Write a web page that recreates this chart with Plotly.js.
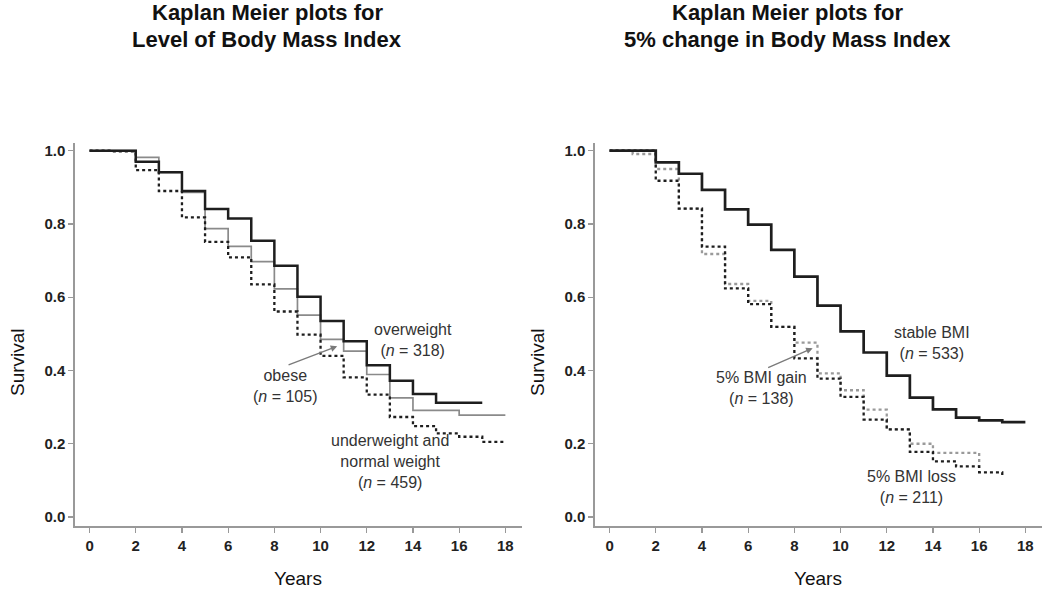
<!DOCTYPE html>
<html>
<head>
<meta charset="utf-8">
<script src="https://cdn.plot.ly/plotly-3.0.1.min.js"></script>
<style>html,body{margin:0;padding:0;background:#fff;}#chart{width:1050px;height:592px;}</style>
</head>
<body>
<div id="chart"></div>
<script>
// ---- Left panel: Level of Body Mass Index ----
const overweightYears = [0, 2, 3, 4, 5, 6, 7, 8, 9, 10, 11, 12, 13, 14, 15, 17];
const overweightSurv  = [1.0, 0.970, 0.941, 0.890, 0.841, 0.815, 0.754, 0.686, 0.601, 0.535, 0.480, 0.414, 0.372, 0.336, 0.312, 0.312];
const obeseYears = [0, 2, 3, 4, 5, 6, 7, 8, 9, 10, 11, 12, 13, 14, 16, 18];
const obeseSurv  = [1.0, 0.982, 0.941, 0.886, 0.787, 0.739, 0.697, 0.623, 0.551, 0.485, 0.453, 0.389, 0.325, 0.291, 0.278, 0.278];
const underYears = [0, 1, 2, 3, 4, 5, 6, 7, 8, 9, 10, 11, 12, 13, 14, 15, 16, 17, 18];
const underSurv  = [1.0, 0.998, 0.947, 0.890, 0.818, 0.751, 0.709, 0.635, 0.561, 0.498, 0.440, 0.381, 0.334, 0.273, 0.248, 0.228, 0.219, 0.205, 0.205];

// ---- Right panel: 5% change in Body Mass Index ----
const stableYears = [0, 2, 3, 4, 5, 6, 7, 8, 9, 10, 11, 12, 13, 14, 15, 16, 17, 18];
const stableSurv  = [1.0, 0.968, 0.937, 0.893, 0.840, 0.798, 0.729, 0.656, 0.577, 0.507, 0.449, 0.386, 0.326, 0.294, 0.271, 0.264, 0.259, 0.259];
const gainYears = [0, 1, 2, 3, 4, 5, 6, 7, 8, 9, 10, 11, 12, 13, 14, 16];
const gainSurv  = [1.0, 0.991, 0.950, 0.842, 0.718, 0.636, 0.590, 0.519, 0.476, 0.392, 0.346, 0.293, 0.239, 0.200, 0.175, 0.125];
const lossYears = [0, 2, 3, 4, 5, 6, 7, 8, 9, 10, 11, 12, 13, 14, 15, 16, 17];
const lossSurv  = [1.0, 0.918, 0.842, 0.738, 0.624, 0.581, 0.519, 0.433, 0.378, 0.328, 0.266, 0.239, 0.178, 0.152, 0.138, 0.122, 0.110];

const xTicks = [0, 2, 4, 6, 8, 10, 12, 14, 16, 18];
const yTicks = [0.0, 0.2, 0.4, 0.6, 0.8, 1.0];
const panelTitles = [
  ["Kaplan Meier plots for", "Level of Body Mass Index"],
  ["Kaplan Meier plots for", "5% change in Body Mass Index"]
];
const xTitle = "Years";
const yTitle = "Survival";

const FONT = "Liberation Sans, Arial, sans-serif";
const DOT = "3px,3px";

function step(x, y, xa, ya, color, width, dash) {
  return {x: x, y: y, xaxis: xa, yaxis: ya, type: "scatter", mode: "lines",
          line: {shape: "hv", color: color, width: width, dash: dash || "solid"},
          hoverinfo: "skip", showlegend: false};
}

const traces = [
  step(obeseYears, obeseSurv, "x", "y", "#8a8a8a", 1.7),
  step(underYears, underSurv, "x", "y", "#1e1e1e", 2.3, DOT),
  step(overweightYears, overweightSurv, "x", "y", "#1e1e1e", 2.5),
  step(gainYears, gainSurv, "x2", "y2", "#9a9a9a", 2.3, DOT),
  step(lossYears, lossSurv, "x2", "y2", "#1e1e1e", 2.3, DOT),
  step(stableYears, stableSurv, "x2", "y2", "#1e1e1e", 2.7)
];

function xAxis(domain, anchor) {
  return {domain: domain, anchor: anchor, range: [-0.63, 18.72],
          tickmode: "array", tickvals: xTicks, ticktext: xTicks.map(String),
          ticks: "outside", ticklen: 5, tickcolor: "#999", tickwidth: 1.2,
          showline: true, linecolor: "#999", linewidth: 1.6,
          showgrid: false, zeroline: false,
          tickfont: {family: FONT, size: 15, color: "#222", weight: "bold"}};
}
function yAxis(anchor) {
  return {domain: [0.11149, 0.75845], anchor: anchor, range: [-0.0246, 1.021],
          tickmode: "array", tickvals: yTicks, ticktext: yTicks.map(v => v.toFixed(1)),
          ticks: "outside", ticklen: 5, tickcolor: "#999", tickwidth: 1.2,
          showline: true, linecolor: "#999", linewidth: 1.6,
          showgrid: false, zeroline: false,
          tickfont: {family: FONT, size: 15, color: "#222", weight: "bold"}};
}

const txt = {family: FONT, size: 16, color: "#333"};
function lab(text, xref, yref, x, y) {
  return {text: text, xref: xref, yref: yref, x: x, y: y, showarrow: false,
          font: txt, align: "center", xanchor: "center", yanchor: "middle"};
}
function arrow(xref, yref, x, y, ax, ay) {
  return {text: "", xref: xref, yref: yref, x: x, y: y, axref: xref, ayref: yref,
          ax: ax, ay: ay, showarrow: true, arrowhead: 2, arrowsize: 1,
          arrowwidth: 1.3, arrowcolor: "#7a7a7a"};
}
function paperText(text, x, y, size, bold, angle) {
  return {text: text, xref: "paper", yref: "paper", x: x, y: y, showarrow: false,
          xanchor: "center", yanchor: "middle", textangle: angle || 0,
          font: {family: FONT, size: size, color: "#111", weight: bold ? "bold" : "normal"}};
}

const annotations = [
  // panel titles
  paperText(panelTitles[0][0], 267/1050, 1 - 13/592, 22, true),
  paperText(panelTitles[0][1], 267/1050, 1 - 40/592, 22, true),
  paperText(panelTitles[1][0], 787/1050, 1 - 13/592, 22, true),
  paperText(panelTitles[1][1], 787/1050, 1 - 40/592, 22, true),
  // axis titles
  paperText(xTitle, 298/1050, 1 - 578/592, 19, false),
  paperText(xTitle, 818/1050, 1 - 578/592, 19, false),
  paperText(yTitle, 17/1050, 1 - 362/592, 19, false, -90),
  paperText(yTitle, 537/1050, 1 - 362/592, 19, false, -90),
  // left labels
  lab("overweight<br>(<i>n</i> = 318)", "x", "y", 14.0, 0.483),
  lab("obese<br>(<i>n</i> = 105)", "x", "y", 8.47, 0.358),
  arrow("x", "y", 10.72, 0.466, 8.55, 0.414),
  lab("underweight and<br>normal weight<br>(<i>n</i> = 459)", "x", "y", 13.02, 0.152),
  // right labels
  lab("stable BMI<br>(<i>n</i> = 533)", "x2", "y2", 13.94, 0.475),
  lab("5% BMI gain<br>(<i>n</i> = 138)", "x2", "y2", 6.58, 0.353),
  arrow("x2", "y2", 8.79, 0.461, 6.80, 0.406),
  lab("5% BMI loss<br>(<i>n</i> = 211)", "x2", "y2", 13.07, 0.081)
];

const layout = {
  width: 1050, height: 592,
  margin: {l: 0, r: 0, t: 0, b: 0},
  paper_bgcolor: "#fff", plot_bgcolor: "#fff",
  showlegend: false,
  xaxis: xAxis([75/1050, 522/1050], "y"),
  yaxis: yAxis("x"),
  xaxis2: xAxis([595/1050, 1042/1050], "y2"),
  yaxis2: yAxis("x2"),
  annotations: annotations
};

Plotly.newPlot("chart", traces, layout, {staticPlot: true, displayModeBar: false});
</script>
</body>
</html>
